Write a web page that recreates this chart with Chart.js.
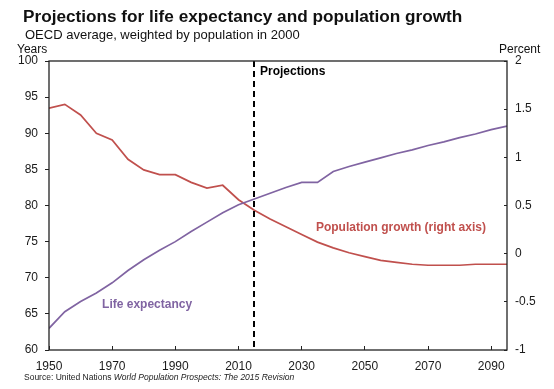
<!DOCTYPE html>
<html>
<head>
<meta charset="utf-8">
<script src="https://cdn.jsdelivr.net/npm/chart.js@4.4.1/dist/chart.umd.min.js"></script>
<style>
  body { margin: 0; background: #fff; font-family: "Liberation Sans", Arial, sans-serif; }
  #wrap { position: relative; width: 554px; height: 389px; overflow: hidden; }
  #wrap canvas { position: absolute; left: 0; top: 0; }
  .txt { position: absolute; white-space: nowrap; color: #111; }
  #title { left: 23px; top: 6px; font-size: 17.2px; line-height: 20px; font-weight: bold; }
  #sub { left: 25px; top: 27px; font-size: 13px; line-height: 15px; }
  #years { left: 17px; top: 42px; font-size: 12px; line-height: 14px; }
  #pct { left: 499px; top: 42px; font-size: 12px; line-height: 14px; }
  #src { left: 24px; top: 372px; font-size: 8.5px; line-height: 10px; color: #222; }
</style>
</head>
<body>
<div id="wrap">
  <canvas id="lifeChart" width="554" height="389"></canvas>
  <div class="txt" id="title">Projections for life expectancy and population growth</div>
  <div class="txt" id="sub">OECD average, weighted by population in 2000</div>
  <div class="txt" id="years">Years</div>
  <div class="txt" id="pct">Percent</div>
  <div class="txt" id="src">Source: United Nations <i>World Population Prospects: The 2015 Revision</i></div>
</div>
<script>
// data
const years = [1950, 1955, 1960, 1965, 1970, 1975, 1980, 1985, 1990, 1995,
               2000, 2005, 2010, 2015, 2020, 2025, 2030, 2035, 2040, 2045,
               2050, 2055, 2060, 2065, 2070, 2075, 2080, 2085, 2090, 2095];
const lifeExpectancy = [63.0, 65.3, 66.7, 67.9, 69.3, 71.0, 72.5, 73.8, 75.0, 76.4,
                        77.7, 79.0, 80.1, 80.9, 81.7, 82.5, 83.2, 83.2, 84.7, 85.4,
                        86.0, 86.6, 87.2, 87.7, 88.3, 88.8, 89.4, 89.9, 90.5, 91.0];
const popGrowth = [1.51, 1.55, 1.44, 1.25, 1.18, 0.98, 0.87, 0.82, 0.82, 0.74,
                   0.68, 0.71, 0.56, 0.45, 0.36, 0.28, 0.20, 0.12, 0.06, 0.01,
                   -0.03, -0.07, -0.09, -0.11, -0.12, -0.12, -0.12, -0.11, -0.11, -0.11];
const xTicks = [1950, 1970, 1990, 2010, 2030, 2050, 2070, 2090];
const projStart = 2015;

const RED = '#c0504d';
const PURPLE = '#8064a2';
const FONT = '"Liberation Sans", Arial, sans-serif';

// box, projection line and in-chart labels
const extras = {
    id: 'extras',
    afterDatasetsDraw(chart) {
        const ctx = chart.ctx;
        const a = chart.chartArea;
        const x = chart.scales.x, y = chart.scales.y;
        ctx.save();
        // dashed projection line
        const px = Math.round(x.getPixelForValue(projStart));
        ctx.strokeStyle = '#000';
        ctx.lineWidth = 2;
        ctx.setLineDash([6, 4]);
        ctx.beginPath();
        ctx.moveTo(px, a.top);
        ctx.lineTo(px, a.bottom);
        ctx.stroke();
        ctx.setLineDash([]);
        // frame
        ctx.strokeStyle = '#222';
        ctx.lineWidth = 1.3;
        ctx.strokeRect(a.left, a.top, a.right - a.left, a.bottom - a.top);
        // labels
        ctx.textBaseline = 'middle';
        ctx.textAlign = 'left';
        ctx.font = 'bold 12px ' + FONT;
        ctx.fillStyle = '#000';
        ctx.fillText('Projections', px + 6, a.top + 11);
        ctx.fillStyle = RED;
        ctx.fillText('Population growth (right axis)', x.getPixelForValue(2034.5), y.getPixelForValue(76.9));
        ctx.fillStyle = PURPLE;
        ctx.fillText('Life expectancy', x.getPixelForValue(1966.8), y.getPixelForValue(66.3));
        ctx.restore();
    }
};

const tickFont = { family: FONT, size: 12 };

new Chart(document.getElementById('lifeChart'), {
    type: 'line',
    data: {
        labels: years,
        datasets: [{
            label: 'Life expectancy',
            data: years.map((yr, i) => ({ x: yr, y: lifeExpectancy[i] })),
            borderColor: PURPLE,
            borderWidth: 1.7,
            pointRadius: 0,
            yAxisID: 'y'
        }, {
            label: 'Population growth (right axis)',
            data: years.map((yr, i) => ({ x: yr, y: popGrowth[i] })),
            borderColor: RED,
            borderWidth: 1.7,
            pointRadius: 0,
            yAxisID: 'y2'
        }]
    },
    options: {
        responsive: false,
        animation: false,
        layout: { padding: { left: 9, right: 0, top: 61, bottom: 15 } },
        plugins: {
            legend: { display: false },
            tooltip: { enabled: false }
        },
        scales: {
            x: {
                type: 'linear',
                min: 1950,
                max: 2095,
                afterBuildTicks: s => { s.ticks = xTicks.map(v => ({ value: v })); },
                afterFit: s => { s.height = 24; },
                border: { display: false },
                grid: { drawOnChartArea: false, tickLength: -4, color: '#222', tickWidth: 1 },
                ticks: { font: tickFont, color: '#1a1a1a', padding: 13, maxRotation: 0,
                         callback: v => String(v) }
            },
            y: {
                position: 'left',
                min: 60,
                max: 100,
                afterFit: s => { s.width = 40; },
                border: { display: false },
                grid: { drawOnChartArea: false, tickLength: 4, color: '#222' },
                ticks: { font: tickFont, color: '#1a1a1a', stepSize: 5, padding: 7 }
            },
            y2: {
                position: 'right',
                min: -1,
                max: 2,
                afterFit: s => { s.width = 47; },
                border: { display: false },
                grid: { drawOnChartArea: false, tickLength: -3, color: '#222' },
                ticks: { font: tickFont, color: '#1a1a1a', stepSize: 0.5, padding: 11,
                         callback: v => String(v) }
            }
        }
    },
    plugins: [extras]
});
</script>
</body>
</html>
